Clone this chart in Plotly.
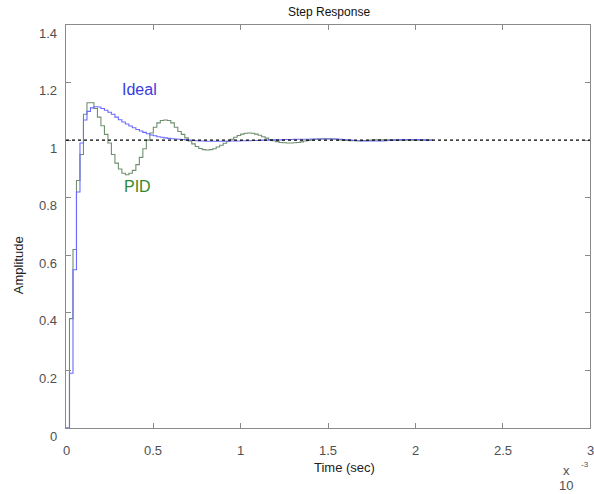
import plotly.graph_objects as go

# sample period (ms) and sampled step responses
sample_period_ms = 0.02

pid_response = [
    0.0, 0.38, 0.62, 0.86, 0.95, 1.09, 1.13, 1.13, 1.11, 1.08,
    1.05, 1.02, 0.99, 0.95, 0.92, 0.90, 0.885, 0.88, 0.885, 0.895,
    0.915, 0.94, 0.97, 1.0, 1.025, 1.045, 1.06, 1.068, 1.07, 1.068,
    1.06, 1.045, 1.03, 1.02, 1.008, 0.997, 0.987, 0.978, 0.971, 0.967,
    0.966, 0.967, 0.970, 0.976, 0.982, 0.989, 0.996, 1.003, 1.010, 1.016,
    1.021, 1.024, 1.025, 1.024, 1.021, 1.017, 1.012, 1.007, 1.002, 0.998,
    0.995, 0.992, 0.991, 0.990, 0.990, 0.991, 0.992, 0.994, 0.997, 0.999,
    1.001, 1.003, 1.004, 1.005, 1.005, 1.005, 1.004, 1.003, 1.001, 1.0,
    0.999, 0.998, 0.998, 0.998, 0.998, 0.999, 0.999, 1.0, 1.001, 1.001,
    1.001, 1.001, 1.001, 1.0, 1.0, 1.0, 1.0, 1.0, 1.0, 1.0,
    1.0, 1.0, 1.0, 1.0, 1.0, 1.0,
]

ideal_response = [
    0.0, 0.19, 0.55, 0.82, 0.99, 1.07, 1.10, 1.112, 1.116, 1.115,
    1.11, 1.104, 1.097, 1.09, 1.08, 1.071, 1.063, 1.056, 1.049, 1.043,
    1.037, 1.032, 1.027, 1.022, 1.018, 1.015, 1.012, 1.010, 1.008, 1.006,
    1.005, 1.004, 1.003, 1.002, 1.001, 1.0, 0.999, 0.998, 0.997, 0.997,
    0.996, 0.996, 0.996, 0.996, 0.996, 0.996, 0.996, 0.997, 0.997, 0.997,
    0.998, 0.998, 0.998, 0.999, 0.999, 0.999, 1.0, 1.0, 1.0, 1.001,
    1.001, 1.001, 1.002, 1.002, 1.002, 1.003, 1.003, 1.003, 1.003, 1.003,
    1.004, 1.004, 1.004, 1.004, 1.004, 1.004, 1.004, 1.004, 1.003, 1.002,
    1.001, 1.0, 0.999, 0.998, 0.997, 0.997, 0.997, 0.997, 0.997, 0.997,
    0.997, 0.998, 0.999, 1.0, 1.001, 1.001, 1.002, 1.002, 1.002, 1.002,
    1.002, 1.001, 1.001, 1.0, 1.0, 1.0,
]

final_value = 1.0
x_ticks = [0, 0.5, 1, 1.5, 2, 2.5, 3]
x_tick_labels = ["0", "0.5", "1", "1.5", "2", "2.5", "3"]
y_ticks = [0, 0.2, 0.4, 0.6, 0.8, 1, 1.2, 1.4]
y_tick_labels = ["0", "0.2", "0.4", "0.6", "0.8", "1", "1.2", "1.4"]

FONT = "Liberation Sans, Arial, sans-serif"
AXIS_GREY = "#8a8a8a"
LABEL_GREY = "#505050"

fig = go.Figure()
fig.add_trace(go.Scatter(
    y=pid_response, x0=0, dx=sample_period_ms, mode="lines",
    line=dict(color="#6f8f6f", width=1.1, shape="hv"), name="PID",
))
fig.add_trace(go.Scatter(
    y=ideal_response, x0=0, dx=sample_period_ms, mode="lines",
    line=dict(color="#6b6bff", width=1.1, shape="hv"), name="Ideal",
))

fig.add_shape(type="line", xref="x", yref="y", x0=0, x1=3,
              y0=final_value, y1=final_value,
              line=dict(color="black", width=1.2, dash="dot"))

tick_font = dict(family=FONT, size=13, color=LABEL_GREY)
# tick labels (drawn as text, offset as in the original rendering)
for xv, xl in zip(x_ticks, x_tick_labels):
    fig.add_annotation(x=xv, y=-0.057, xref="x", yref="paper", text=xl,
                       showarrow=False, xanchor="center", yanchor="middle",
                       font=tick_font)
for yv, yl in zip(y_ticks, y_tick_labels):
    fig.add_annotation(x=-0.0134, y=yv, xref="paper", yref="y", text=yl,
                       showarrow=False, xanchor="right", yanchor="middle",
                       yshift=-8, font=tick_font)

ann_font = dict(family=FONT, size=13, color="#222222")


def text(x, y, s, font, xref="paper", yref="paper", **kw):
    fig.add_annotation(x=x, y=y, xref=xref, yref=yref, text=s, showarrow=False,
                       xanchor=kw.pop("xanchor", "center"),
                       yanchor=kw.pop("yanchor", "middle"), font=font, **kw)


text(0.42, 1.175, "Ideal", dict(family=FONT, size=16, color="#3a3ae0"), "x", "y")
text(0.41, 0.84, "PID", dict(family=FONT, size=16, color="#2f8a2f"), "x", "y")
text(0.531, -0.099, "Time (sec)", ann_font)
text(-0.0916, 0.404, "Amplitude", ann_font, textangle=-90)
text(0.502, 1.032, "Step Response", dict(family=FONT, size=12, color="#111111"))
text(0.956, -0.105, "x", dict(family=FONT, size=13, color=LABEL_GREY))
text(0.990, -0.090, "-3", dict(family=FONT, size=8, color=LABEL_GREY))
text(0.954, -0.143, "10", dict(family=FONT, size=13, color=LABEL_GREY))

fig.update_layout(
    width=594, height=494,
    margin=dict(l=66, r=4, t=25, b=66, autoexpand=False),
    paper_bgcolor="white", plot_bgcolor="white",
    showlegend=False,
    font=dict(family=FONT, size=13, color=LABEL_GREY),
    xaxis=dict(
        range=[0, 3], tickvals=x_ticks, showticklabels=False,
        showgrid=False, zeroline=False, automargin=False,
        showline=True, linecolor=AXIS_GREY, linewidth=1, mirror="ticks",
        ticks="inside", ticklen=5, tickcolor=AXIS_GREY, tickwidth=1,
    ),
    yaxis=dict(
        range=[0, 1.4], tickvals=y_ticks, showticklabels=False,
        showgrid=False, zeroline=False, automargin=False,
        showline=True, linecolor=AXIS_GREY, linewidth=1, mirror="ticks",
        ticks="inside", ticklen=5, tickcolor=AXIS_GREY, tickwidth=1,
    ),
)

fig.write_html("out.html", config={"displayModeBar": False},
               post_script="document.body.style.margin='0';")
